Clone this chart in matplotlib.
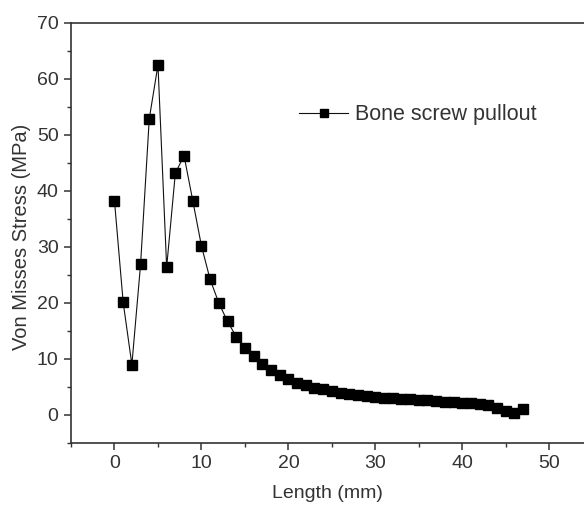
import matplotlib
matplotlib.use("Agg")
import matplotlib.pyplot as plt
from matplotlib.ticker import MultipleLocator

plt.rcParams["font.family"] = ["Liberation Sans", "DejaVu Sans"]

# Von Mises stress along the screw (mm, MPa)
length_mm = list(range(0, 48))
stress_mpa = [
    38.2, 20.1, 9.0, 26.9, 52.9, 62.5, 26.4, 43.2, 46.3, 38.3,
    30.2, 24.2, 20.0, 16.7, 14.0, 12.0, 10.6, 9.1, 8.0, 7.2,
    6.4, 5.7, 5.3, 4.9, 4.6, 4.3, 4.0, 3.8, 3.6, 3.4,
    3.3, 3.1, 3.0, 2.9, 2.8, 2.7, 2.6, 2.5, 2.4, 2.3,
    2.2, 2.1, 1.9, 1.7, 1.3, 0.7, 0.4, 1.1,
]

AXIS_GREY = "#333333"
TEXT_GREY = "#333333"

fig = plt.figure(figsize=(5.84, 5.05), dpi=100)
ax = fig.add_axes([0.1216, 0.1228, 0.8784, 0.8317])

ax.plot(length_mm, stress_mpa, color="#111111", linewidth=0.8,
        marker="s", markersize=7, markerfacecolor="black",
        markeredgecolor="black", label="Bone screw pullout")

ax.set_xlim(-5, 54)
ax.set_ylim(-5, 70)
ax.xaxis.set_major_locator(MultipleLocator(10))
ax.xaxis.set_minor_locator(MultipleLocator(5))
ax.yaxis.set_major_locator(MultipleLocator(10))
ax.yaxis.set_minor_locator(MultipleLocator(5))

for side in ["left", "bottom", "top"]:
    ax.spines[side].set_color(AXIS_GREY)
    ax.spines[side].set_linewidth(1.2)
ax.spines["right"].set_visible(False)

ax.tick_params(which="major", direction="out", length=5, width=1.1,
               color=AXIS_GREY, labelsize=14, labelcolor=TEXT_GREY, pad=4)
ax.tick_params(which="minor", direction="out", length=3, width=1.0,
               color=AXIS_GREY)

ax.set_xlabel("Length (mm)", fontsize=14, color=TEXT_GREY, labelpad=9)
ax.set_ylabel("Von Misses Stress (MPa)", fontsize=14.5, color=TEXT_GREY)
ax.yaxis.set_label_coords(-0.078, 0.49)

leg = ax.legend(loc="center left", bbox_to_anchor=(0.444, 0.781), frameon=False,
                fontsize=15.5, handlelength=2.3, handletextpad=0.3,
                markerscale=0.75, borderaxespad=0, borderpad=0)
for t in leg.get_texts():
    t.set_color(TEXT_GREY)

fig.savefig("out.png", dpi=100)
